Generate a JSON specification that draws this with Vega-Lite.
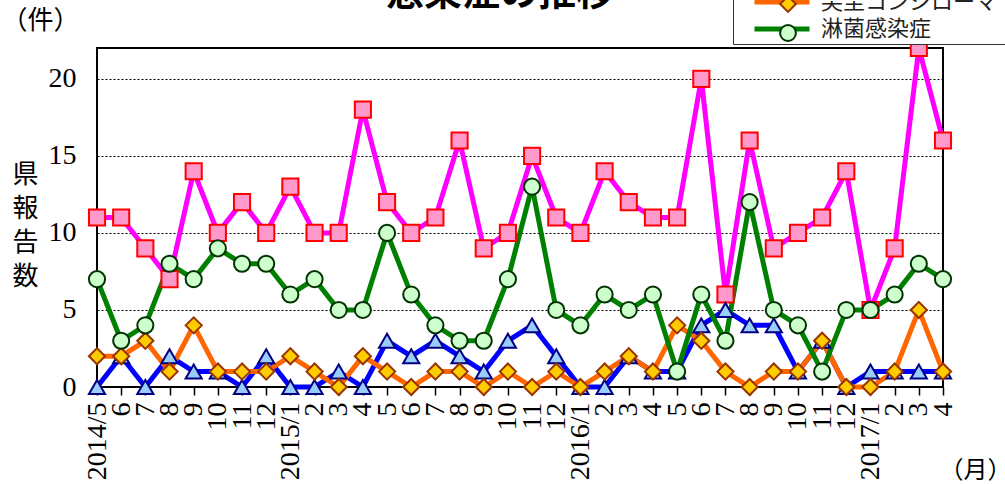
{
  "$schema": "https://vega.github.io/schema/vega-lite/v6.json",
  "width": 846,
  "height": 339,
  "autosize": {"type": "none"},
  "padding": {"left": 97, "top": 48, "right": 62, "bottom": 97},
  "background": "white",
  "title": {"text": "感染症の推移", "fontSize": 38, "font": "Noto Sans CJK JP", "fontWeight": "bold", "anchor": "middle", "frame": "group", "dx": -20, "baseline": "alphabetic", "offset": -110, "color": "#000"},
  "config": {"view": {"stroke": "#000", "strokeWidth": 2}},
  "data": {"values": [
    {"month": "2014/5", "性器クラミジア感染症": 11, "性器ヘルペスウイルス感染症": 0, "尖圭コンジローマ": 2, "淋菌感染症": 7},
    {"month": "2014/6", "性器クラミジア感染症": 11, "性器ヘルペスウイルス感染症": 2, "尖圭コンジローマ": 2, "淋菌感染症": 3},
    {"month": "2014/7", "性器クラミジア感染症": 9, "性器ヘルペスウイルス感染症": 0, "尖圭コンジローマ": 3, "淋菌感染症": 4},
    {"month": "2014/8", "性器クラミジア感染症": 7, "性器ヘルペスウイルス感染症": 2, "尖圭コンジローマ": 1, "淋菌感染症": 8},
    {"month": "2014/9", "性器クラミジア感染症": 14, "性器ヘルペスウイルス感染症": 1, "尖圭コンジローマ": 4, "淋菌感染症": 7},
    {"month": "2014/10", "性器クラミジア感染症": 10, "性器ヘルペスウイルス感染症": 1, "尖圭コンジローマ": 1, "淋菌感染症": 9},
    {"month": "2014/11", "性器クラミジア感染症": 12, "性器ヘルペスウイルス感染症": 0, "尖圭コンジローマ": 1, "淋菌感染症": 8},
    {"month": "2014/12", "性器クラミジア感染症": 10, "性器ヘルペスウイルス感染症": 2, "尖圭コンジローマ": 1, "淋菌感染症": 8},
    {"month": "2015/1", "性器クラミジア感染症": 13, "性器ヘルペスウイルス感染症": 0, "尖圭コンジローマ": 2, "淋菌感染症": 6},
    {"month": "2015/2", "性器クラミジア感染症": 10, "性器ヘルペスウイルス感染症": 0, "尖圭コンジローマ": 1, "淋菌感染症": 7},
    {"month": "2015/3", "性器クラミジア感染症": 10, "性器ヘルペスウイルス感染症": 1, "尖圭コンジローマ": 0, "淋菌感染症": 5},
    {"month": "2015/4", "性器クラミジア感染症": 18, "性器ヘルペスウイルス感染症": 0, "尖圭コンジローマ": 2, "淋菌感染症": 5},
    {"month": "2015/5", "性器クラミジア感染症": 12, "性器ヘルペスウイルス感染症": 3, "尖圭コンジローマ": 1, "淋菌感染症": 10},
    {"month": "2015/6", "性器クラミジア感染症": 10, "性器ヘルペスウイルス感染症": 2, "尖圭コンジローマ": 0, "淋菌感染症": 6},
    {"month": "2015/7", "性器クラミジア感染症": 11, "性器ヘルペスウイルス感染症": 3, "尖圭コンジローマ": 1, "淋菌感染症": 4},
    {"month": "2015/8", "性器クラミジア感染症": 16, "性器ヘルペスウイルス感染症": 2, "尖圭コンジローマ": 1, "淋菌感染症": 3},
    {"month": "2015/9", "性器クラミジア感染症": 9, "性器ヘルペスウイルス感染症": 1, "尖圭コンジローマ": 0, "淋菌感染症": 3},
    {"month": "2015/10", "性器クラミジア感染症": 10, "性器ヘルペスウイルス感染症": 3, "尖圭コンジローマ": 1, "淋菌感染症": 7},
    {"month": "2015/11", "性器クラミジア感染症": 15, "性器ヘルペスウイルス感染症": 4, "尖圭コンジローマ": 0, "淋菌感染症": 13},
    {"month": "2015/12", "性器クラミジア感染症": 11, "性器ヘルペスウイルス感染症": 2, "尖圭コンジローマ": 1, "淋菌感染症": 5},
    {"month": "2016/1", "性器クラミジア感染症": 10, "性器ヘルペスウイルス感染症": 0, "尖圭コンジローマ": 0, "淋菌感染症": 4},
    {"month": "2016/2", "性器クラミジア感染症": 14, "性器ヘルペスウイルス感染症": 0, "尖圭コンジローマ": 1, "淋菌感染症": 6},
    {"month": "2016/3", "性器クラミジア感染症": 12, "性器ヘルペスウイルス感染症": 2, "尖圭コンジローマ": 2, "淋菌感染症": 5},
    {"month": "2016/4", "性器クラミジア感染症": 11, "性器ヘルペスウイルス感染症": 1, "尖圭コンジローマ": 1, "淋菌感染症": 6},
    {"month": "2016/5", "性器クラミジア感染症": 11, "性器ヘルペスウイルス感染症": 1, "尖圭コンジローマ": 4, "淋菌感染症": 1},
    {"month": "2016/6", "性器クラミジア感染症": 20, "性器ヘルペスウイルス感染症": 4, "尖圭コンジローマ": 3, "淋菌感染症": 6},
    {"month": "2016/7", "性器クラミジア感染症": 6, "性器ヘルペスウイルス感染症": 5, "尖圭コンジローマ": 1, "淋菌感染症": 3},
    {"month": "2016/8", "性器クラミジア感染症": 16, "性器ヘルペスウイルス感染症": 4, "尖圭コンジローマ": 0, "淋菌感染症": 12},
    {"month": "2016/9", "性器クラミジア感染症": 9, "性器ヘルペスウイルス感染症": 4, "尖圭コンジローマ": 1, "淋菌感染症": 5},
    {"month": "2016/10", "性器クラミジア感染症": 10, "性器ヘルペスウイルス感染症": 1, "尖圭コンジローマ": 1, "淋菌感染症": 4},
    {"month": "2016/11", "性器クラミジア感染症": 11, "性器ヘルペスウイルス感染症": 3, "尖圭コンジローマ": 3, "淋菌感染症": 1},
    {"month": "2016/12", "性器クラミジア感染症": 14, "性器ヘルペスウイルス感染症": 0, "尖圭コンジローマ": 0, "淋菌感染症": 5},
    {"month": "2017/1", "性器クラミジア感染症": 5, "性器ヘルペスウイルス感染症": 1, "尖圭コンジローマ": 0, "淋菌感染症": 5},
    {"month": "2017/2", "性器クラミジア感染症": 9, "性器ヘルペスウイルス感染症": 1, "尖圭コンジローマ": 1, "淋菌感染症": 6},
    {"month": "2017/3", "性器クラミジア感染症": 22, "性器ヘルペスウイルス感染症": 1, "尖圭コンジローマ": 5, "淋菌感染症": 8},
    {"month": "2017/4", "性器クラミジア感染症": 16, "性器ヘルペスウイルス感染症": 1, "尖圭コンジローマ": 1, "淋菌感染症": 7}
  ]},
  "transform": [
    {"fold": ["性器クラミジア感染症", "性器ヘルペスウイルス感染症", "尖圭コンジローマ", "淋菌感染症"], "as": ["series", "count"]}
  ],
  "encoding": {
    "x": {
      "field": "month", "type": "ordinal", "sort": null,
      "scale": {"type": "point", "padding": 0},
      "axis": {
        "labelExpr": "(datum.value == '2014/5' || split(datum.value, '/')[1] == '1') ? datum.value : split(datum.value, '/')[1]",
        "labelAngle": 270, "labelFont": "Liberation Serif, DejaVu Serif, serif", "labelFontSize": 28, "labelColor": "#000",
        "labelPadding": 7, "labelOverlap": false, "domain": false,
        "ticks": true, "tickColor": "#000", "tickSize": 8, "tickWidth": 1.5, "grid": false,
        "title": "（月）", "titleFont": "Noto Sans CJK JP", "titleFontSize": 24, "titleFontWeight": "normal",
        "titleColor": "#000", "titleX": 878, "titleY": 83, "titleAlign": "center", "titleBaseline": "middle", "titleAngle": 0
      }
    }
  },
  "layer": [
    {
      "mark": {"type": "line", "strokeWidth": 5},
      "encoding": {
        "y": {
          "field": "count", "type": "quantitative",
          "scale": {"domain": [0, 22], "nice": false},
          "axis": {
            "orient": "left", "values": [0, 5, 10, 15, 20], "domain": false, "ticks": false,
            "labelFont": "Liberation Serif, DejaVu Serif, serif", "labelFontSize": 28, "labelColor": "#000", "labelPadding": 21,
            "grid": true, "gridColor": "#000", "gridDash": [2, 2], "gridWidth": 1,
            "title": ["県", "報", "告", "数"], "titleFont": "Noto Sans CJK JP", "titleFontSize": 26,
            "titleFontWeight": "normal", "titleColor": "#000", "titleAngle": 0, "titleAlign": "center",
            "titleBaseline": "top", "titleX": -72, "titleY": 113, "titleLineHeight": 34
          }
        },
        "color": {
          "field": "series", "type": "nominal",
          "sort": ["性器クラミジア感染症", "性器ヘルペスウイルス感染症", "尖圭コンジローマ", "淋菌感染症"],
          "scale": {"range": ["#FF00FF", "#0000FF", "#FF6600", "#008000"]},
          "legend": {
            "orient": "none", "legendX": 636, "legendY": -115, "title": null,
            "symbolType": "M-5.5,0H5.5", "symbolSize": 100, "symbolStrokeWidth": 5,
            "symbolOffset": 34, "labelOffset": 28, "labelFont": "Noto Sans CJK JP", "labelFontSize": 22,
            "labelColor": "#222", "labelLimit": 400, "rowPadding": 5, "padding": 4,
            "strokeColor": "#333", "fillColor": "white"
          }
        }
      }
    },
    {
      "mark": {"type": "point", "filled": true, "size": 260, "strokeWidth": 2, "opacity": 1},
      "encoding": {
        "y": {
          "field": "count", "type": "quantitative",
          "scale": {"domain": [0, 22], "nice": false},
          "axis": {
            "orient": "right", "domain": false, "ticks": false, "labels": false, "grid": false,
            "title": "（件）", "titleFont": "Noto Sans CJK JP", "titleFontSize": 26, "titleFontWeight": "normal",
            "titleColor": "#000", "titleAngle": 0, "titleAlign": "center", "titleBaseline": "middle",
            "titleX": -903, "titleY": -28
          }
        },
        "shape": {
          "field": "series", "type": "nominal",
          "scale": {"domain": ["性器クラミジア感染症", "性器ヘルペスウイルス感染症", "尖圭コンジローマ", "淋菌感染症"], "range": ["square", "triangle-up", "diamond", "circle"]},
          "legend": {"orient": "none", "legendX": 636, "legendY": -115, "title": null, "symbolSize": 250, "symbolStrokeWidth": 2, "symbolOpacity": 1, "symbolOffset": 40, "labelOffset": 28, "labelOpacity": 0, "labelFont": "Noto Sans CJK JP", "labelFontSize": 22, "labelLimit": 400, "rowPadding": 5, "padding": 4}
        },
        "fill": {
          "field": "series", "type": "nominal",
          "scale": {"domain": ["性器クラミジア感染症", "性器ヘルペスウイルス感染症", "尖圭コンジローマ", "淋菌感染症"], "range": ["#FF99CC", "#99CCFF", "#FFCC00", "#CCFFCC"]},
          "legend": {"orient": "none", "legendX": 636, "legendY": -115, "title": null, "symbolSize": 250, "symbolStrokeWidth": 2, "symbolOpacity": 1, "symbolOffset": 40, "labelOffset": 28, "labelOpacity": 0, "labelFont": "Noto Sans CJK JP", "labelFontSize": 22, "labelLimit": 400, "rowPadding": 5, "padding": 4}
        },
        "stroke": {
          "field": "series", "type": "nominal",
          "scale": {"domain": ["性器クラミジア感染症", "性器ヘルペスウイルス感染症", "尖圭コンジローマ", "淋菌感染症"], "range": ["#FF0000", "#000080", "#993300", "#003300"]},
          "legend": {"orient": "none", "legendX": 636, "legendY": -115, "title": null, "symbolSize": 250, "symbolStrokeWidth": 2, "symbolOpacity": 1, "symbolOffset": 40, "labelOffset": 28, "labelOpacity": 0, "labelFont": "Noto Sans CJK JP", "labelFontSize": 22, "labelLimit": 400, "rowPadding": 5, "padding": 4}
        }
      }
    }
  ],
  "resolve": {"axis": {"y": "independent"}}
}
